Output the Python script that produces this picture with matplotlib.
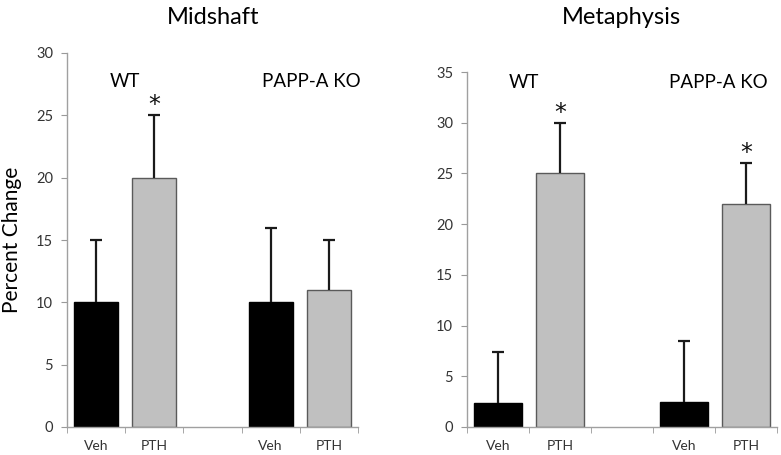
import matplotlib
matplotlib.use("Agg")
import matplotlib.pyplot as plt
import numpy as np

plt.rcParams['font.family'] = ['Lato', 'DejaVu Sans']

categories = ["Veh", "PTH", "", "Veh", "PTH"]
groups = ["WT", "PAPP-A KO"]

mid_values = [10, 20, None, 10, 11]
mid_err = [5, 5, None, 6, 4]
mid_sig = [False, True, False, False, False]

meta_values = [2.4, 25, None, 2.45, 22]
meta_err = [5.0, 5, None, 6.05, 4]
meta_sig = [False, True, False, False, True]

bar_colors = ["#000000", "#C0C0C0", None, "#000000", "#C0C0C0"]
edge_colors = ["#000000", "#5a5a5a", None, "#000000", "#5a5a5a"]

fig = plt.figure(figsize=(7.81, 4.55), dpi=100)
ax1 = fig.add_axes([67/781, 1-427/455, 291/781, 374/455])
ax2 = fig.add_axes([467/781, 1-427/455, 310/781, 355/455])


def draw(ax, values, errs, sig, ymax, group_y, group_x):
    for i, (v, e) in enumerate(zip(values, errs)):
        if v is None:
            continue
        ax.bar(i, v, width=0.76, color=bar_colors[i], edgecolor=edge_colors[i],
               linewidth=1.0, zorder=2)
        _, caps, _ = ax.errorbar(i, v, yerr=[[0], [e]], fmt='none', ecolor='#1a1a1a',
                                 elinewidth=1.6, capsize=4, capthick=1.6, zorder=3)
        caps[0].set_visible(False)
        if sig[i]:
            ax.annotate("*", (i, v + e), xytext=(0, -1.5), textcoords='offset points',
                        ha='center', va='bottom', fontsize=17, color='#111111',
                        family='DejaVu Sans')
    ax.set_xlim(-0.5, len(values) - 0.5)
    ax.set_ylim(0, ymax)
    ax.set_yticks(np.arange(0, ymax + 1, 5))
    ax.set_xticks(np.arange(len(values)))
    ax.set_xticklabels(categories, fontsize=10, color='#333333')
    ax.set_xticks(np.arange(-0.5, len(values)), minor=True)
    ax.tick_params(axis='x', which='major', length=0, pad=9)
    ax.tick_params(axis='x', which='minor', length=4, direction='out', color='#999999')
    ax.tick_params(axis='y', length=4, direction='out', color='#999999',
                   labelsize=10.5, labelcolor='#333333', pad=6)
    for s in ['top', 'right']:
        ax.spines[s].set_visible(False)
    for s in ['left', 'bottom']:
        ax.spines[s].set_color('#a0a0a0')
        ax.spines[s].set_linewidth(1.0)
    ax.text(group_x[0], group_y, groups[0], ha='center', va='center', fontsize=13.5)
    ax.text(group_x[1], group_y, groups[1], ha='center', va='center', fontsize=13.5)


draw(ax1, mid_values, mid_err, mid_sig, 30, 27.7, (0.5, 3.69))
draw(ax2, meta_values, meta_err, meta_sig, 35, 34.0, (0.42, 3.55))

ax1.set_ylabel("Percent Change", fontsize=15, labelpad=10)

fig.text(213/781, 1-17/455, "Midshaft", ha='center', va='center', fontsize=17)
fig.text(621/781, 1-17/455, "Metaphysis", ha='center', va='center', fontsize=17)

fig.savefig("out.png", dpi=100)
